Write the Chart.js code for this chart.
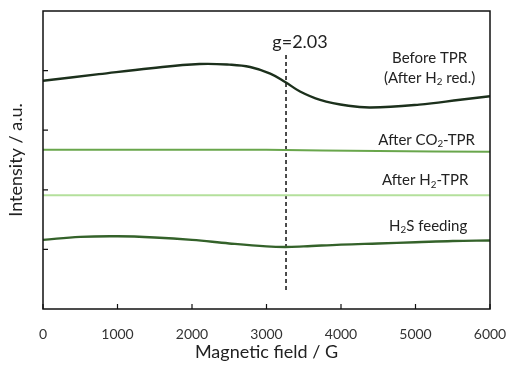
<!DOCTYPE html>
<html>
<head>
<meta charset="utf-8">
<script src="https://cdn.jsdelivr.net/npm/chart.js@4/dist/chart.umd.min.js"></script>
<style>
  html, body { margin: 0; padding: 0; background: #fff; }
  #wrap { width: 508px; height: 367px; }
</style>
</head>
<body>
<div id="wrap"><canvas id="epr"></canvas></div>
<script>
// magnetic field (G) and intensity (a.u., offset traces)
const beforeField = [0, 750, 1450, 2100, 2500, 2780, 3050, 3250, 3450, 3720, 4100, 4400, 5050, 5600, 6000];
const beforeTPR   = [3.83, 3.94, 4.04, 4.11, 4.10, 4.06, 3.95, 3.81, 3.65, 3.51, 3.41, 3.38, 3.43, 3.51, 3.57];

const co2Field = [0, 1500, 3000, 4500, 6000];
const afterCO2 = [2.67, 2.67, 2.67, 2.65, 2.64];

const h2Field = [0, 3000, 6000];
const afterH2 = [1.91, 1.91, 1.91];

const h2sField = [0, 500, 1000, 1500, 2000, 2500, 3000, 3250, 3500, 4000, 4500, 5000, 5500, 6000];
const h2sFeeding = [1.16, 1.21, 1.22, 1.20, 1.16, 1.10, 1.05, 1.04, 1.05, 1.08, 1.10, 1.12, 1.14, 1.15];

const gField = 3262;
const gLine = [4.26, 0.3];

const xTicks = [0, 1000, 2000, 3000, 4000, 5000, 6000];
const yTicks = [1, 2, 3, 4];

const FONT = 'Lato, "Open Sans", sans-serif';

function pts(xs, ys) {
    return xs.map((x, i) => ({ x: x, y: ys[i] }));
}

// text with "_2" style subscripts
function drawRich(ctx, text, cx, cy, size) {
    const parts = text.split(/(_\d)/).filter(p => p.length);
    let total = 0;
    const widths = parts.map(p => {
        const sub = p[0] === '_';
        ctx.font = (sub ? size * 0.65 : size) + 'px ' + FONT;
        const w = ctx.measureText(sub ? p.slice(1) : p).width;
        total += w;
        return w;
    });
    let x = cx - total / 2;
    ctx.textAlign = 'left';
    ctx.textBaseline = 'middle';
    parts.forEach((p, i) => {
        const sub = p[0] === '_';
        ctx.font = (sub ? size * 0.65 : size) + 'px ' + FONT;
        ctx.fillText(sub ? p.slice(1) : p, x, sub ? cy + size * 0.28 : cy);
        x += widths[i];
    });
}

const notes = [
    { text: 'g=2.03', x: 3450, y: 4.48, size: 18 },
    { text: 'Before TPR', x: 5190, y: 4.21, size: 15 },
    { text: '(After H_2 red.)', x: 5190, y: 3.88, size: 15 },
    { text: 'After CO_2-TPR', x: 5150, y: 2.84, size: 15 },
    { text: 'After H_2-TPR', x: 5130, y: 2.16, size: 15 },
    { text: 'H_2S feeding', x: 5170, y: 1.39, size: 15 }
];

const framePlugin = {
    id: 'frame',
    afterDatasetsDraw(chart) {
        const { ctx, chartArea: a, scales } = chart;
        ctx.save();
        ctx.strokeStyle = '#111';
        ctx.lineWidth = 1.5;
        ctx.strokeRect(a.left, a.top, a.right - a.left, a.bottom - a.top);
        ctx.lineWidth = 1.2;
        ctx.beginPath();
        xTicks.forEach(v => {
            const px = scales.x.getPixelForValue(v);
            ctx.moveTo(px, a.bottom);
            ctx.lineTo(px, a.bottom - 5);
        });
        yTicks.forEach(v => {
            const py = scales.y.getPixelForValue(v);
            ctx.moveTo(a.left, py);
            ctx.lineTo(a.left + 5, py);
        });
        ctx.stroke();
        ctx.fillStyle = '#222';
        notes.forEach(n => {
            drawRich(ctx, n.text, scales.x.getPixelForValue(n.x), scales.y.getPixelForValue(n.y), n.size);
        });
        ctx.restore();
    }
};

new Chart(document.getElementById('epr'), {
    type: 'line',
    data: {
        datasets: [
            { label: 'Before TPR', data: pts(beforeField, beforeTPR), borderColor: '#1c301c', borderWidth: 2.4, tension: 0.4 },
            { label: 'After CO2-TPR', data: pts(co2Field, afterCO2), borderColor: '#69a64c', borderWidth: 2, tension: 0.4 },
            { label: 'After H2-TPR', data: pts(h2Field, afterH2), borderColor: '#b4e09c', borderWidth: 2, tension: 0.4 },
            { label: 'H2S feeding', data: pts(h2sField, h2sFeeding), borderColor: '#34622a', borderWidth: 2.4, tension: 0.4 },
            { label: 'g', data: pts([gField, gField], gLine), borderColor: '#111', borderWidth: 1.5, borderDash: [4, 3] }
        ]
    },
    options: {
        responsive: true,
        maintainAspectRatio: false,
        animation: false,
        elements: { point: { radius: 0 } },
        layout: { padding: { top: 11, right: 18, left: 5, bottom: 0 } },
        plugins: { legend: { display: false }, tooltip: { enabled: false } },
        scales: {
            x: {
                type: 'linear',
                min: 0,
                max: 6000,
                afterBuildTicks: s => { s.ticks = xTicks.map(v => ({ value: v })); },
                afterFit: s => { s.height = 58; s.paddingLeft = 0; s.paddingRight = 0; },
                grid: { display: false },
                border: { display: false },
                ticks: { color: '#333', font: { family: FONT, size: 14 }, padding: 9, maxRotation: 0, callback: v => String(v) },
                title: { display: true, text: 'Magnetic field / G', color: '#222', font: { family: FONT, size: 18 }, padding: { top: 1 } }
            },
            y: {
                min: 0,
                max: 5,
                afterFit: s => { s.width = 38; s.paddingTop = 0; s.paddingBottom = 0; },
                grid: { display: false },
                border: { display: false },
                ticks: { display: false },
                title: { display: true, text: 'Intensity / a.u.', color: '#222', font: { family: FONT, size: 18 }, padding: 0 }
            }
        }
    },
    plugins: [framePlugin]
});
</script>
</body>
</html>
